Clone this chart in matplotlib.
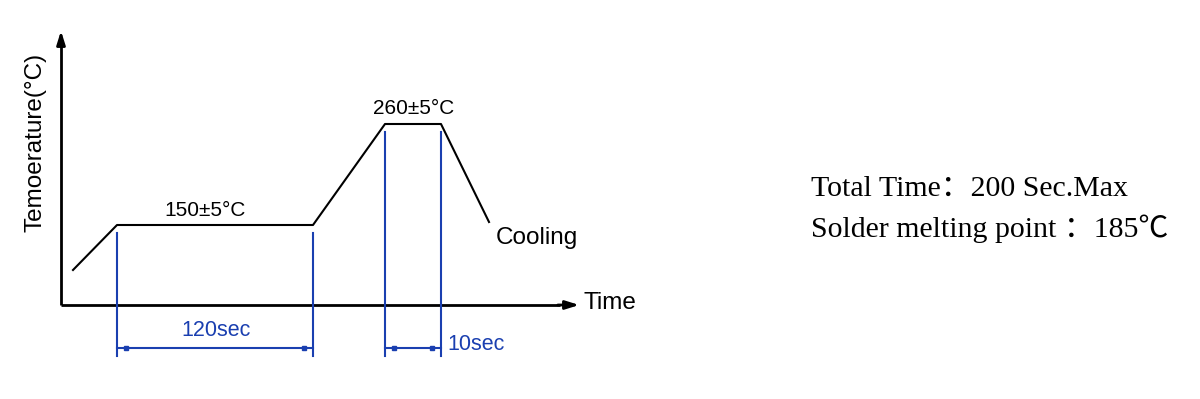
import matplotlib
matplotlib.use("Agg")
import matplotlib.pyplot as plt

# Schematic reflow profile (diagram units = pixel-like grid of the figure)
profile_x = [73, 117, 313, 385, 441, 489]
profile_y = [270, 225, 225, 124, 124, 222]

soak_label = "150±5°C"
peak_label = "260±5°C"
soak_span = "120sec"
peak_span = "10sec"
ylabel = "Temoerature(°C)"
xlabel = "Time"
notes = ["Total Time：200 Sec.Max", "Solder melting point ：185℃"]

BLUE = "#1a3fb0"

fig = plt.figure(figsize=(12, 3.99), dpi=100)
ax = fig.add_axes([0, 0, 1, 1])
ax.set_xlim(0, 1200)
ax.set_ylim(399, 0)
ax.axis("off")

sans = ["Liberation Sans", "DejaVu Sans"]
serif = ["Liberation Serif", "Noto Sans CJK SC", "DejaVu Serif"]

# axes
ax.plot([61, 61], [305, 40], color="black", lw=2, solid_capstyle="butt")
ax.plot([61, 560], [305, 305], color="black", lw=2, solid_capstyle="butt")
ax.annotate("", xy=(61, 28), xytext=(61, 45),
            arrowprops=dict(arrowstyle="-|>,head_width=0.25,head_length=0.8",
                            color="black", lw=2))
ax.annotate("", xy=(582, 305), xytext=(555, 305),
            arrowprops=dict(arrowstyle="-|>,head_width=0.25,head_length=0.8",
                            color="black", lw=2))

# profile
ax.plot(profile_x, profile_y, color="black", lw=1.5)

# blue dimension lines
for i in (1, 2, 3, 4):
    ax.plot([profile_x[i]] * 2, [profile_y[i] + 8, 356], color=BLUE, lw=1.5)

dim_y = 348
ax.plot([profile_x[1], profile_x[2]], [dim_y, dim_y], color=BLUE, lw=1.5)
ax.plot([profile_x[3], profile_x[4]], [dim_y, dim_y], color=BLUE, lw=1.5)
for xm in (profile_x[1] + 9, profile_x[2] - 9, profile_x[3] + 9, profile_x[4] - 9):
    ax.plot([xm], [dim_y], marker="s", ms=3.5, color=BLUE)

# texts
ax.text(205, 211, soak_label, ha="center", va="center", fontsize=15, family=sans)
ax.text(414, 109, peak_label, ha="center", va="center", fontsize=15, family=sans)
ax.text(496, 238, "Cooling", ha="left", va="center", fontsize=17.5, family=sans)
ax.text(584, 303, xlabel, ha="left", va="center", fontsize=17.5, family=sans)
ax.text(216, 331, soak_span, ha="center", va="center", fontsize=15.5, color=BLUE, family=sans)
ax.text(447, 345, peak_span, ha="left", va="center", fontsize=15.5, color=BLUE, family=sans)
ax.text(36, 142, ylabel, ha="center", va="center", rotation=90, fontsize=17.5, family=sans)

ax.text(811, 189, notes[0], ha="left", va="center", fontsize=21.5, family=serif)
ax.text(811, 229, notes[1], ha="left", va="center", fontsize=21.5, family=serif)

fig.savefig("out.png", dpi=100)
